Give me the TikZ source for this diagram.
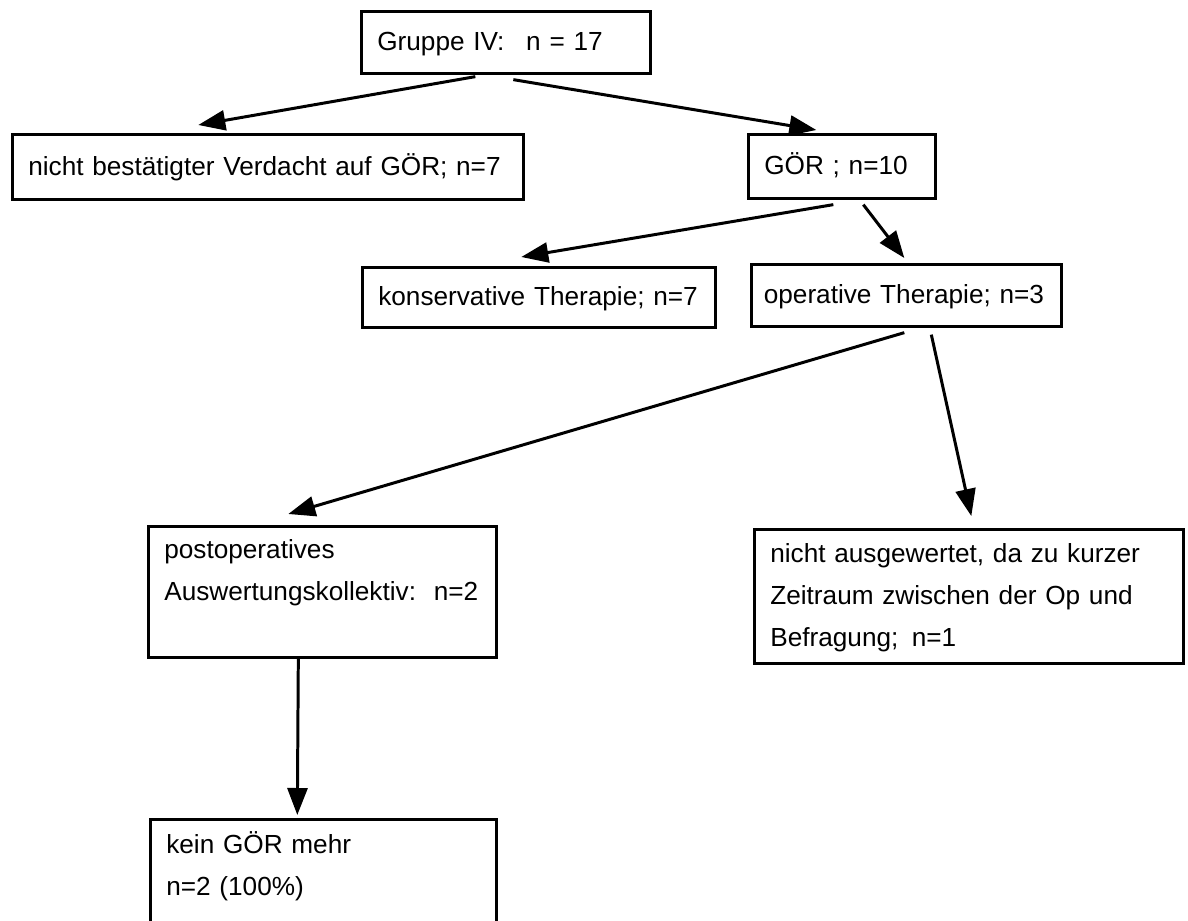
\documentclass[tikz,border=0pt]{standalone}
\usepackage{fontspec}
\setmainfont{Liberation Sans}
\usepackage{tikz}
\usetikzlibrary{arrows.meta}

\begin{document}
\begin{tikzpicture}[
		kasten/.style={draw, line width=1.5pt, anchor=north west, align=left, inner xsep=0.32cm, inner ysep=0cm,
			font=\fontsize{14.9}{23.8}\selectfont, execute at begin node=\strut, execute at end node=\strut},
		pfeil/.style={-{Triangle[length=0.54cm,width=0.4cm]}, line width=1.7pt}]
		\useasboundingbox (0,0) rectangle (23.76,-18.42);
		\node[kasten, text width=5.14cm, minimum height=1.24cm] (gruppe) at (7.2,-0.2) {Gruppe IV:\hspace{0.5em} n = 17};
		\node[kasten, text width=9.58cm, minimum height=1.3cm] (verdacht) at (0.22,-2.66) {nicht bestätigter Verdacht auf GÖR; n=7};
		\node[kasten, text width=3.1cm, minimum height=1.28cm] (goer) at (14.94,-2.66) {GÖR ; n=10};
		\node[kasten, text width=6.42cm, minimum height=1.2cm] (konserv) at (7.22,-5.32) {konservative Therapie; n=7};
		\node[kasten, text width=5.7cm, inner xsep=0.25cm, minimum height=1.24cm] (operativ) at (15.0,-5.26) {operative Therapie; n=3};
		\node[kasten, text width=6.32cm, minimum height=2.62cm] (postop) at (2.94,-10.5) {postoperatives\\Auswertungskollektiv:\hspace{0.18em} n=2\\};
		\node[kasten, text width=7.94cm, minimum height=2.68cm] (nichtausg) at (15.06,-10.56) {nicht ausgewertet, da zu kurzer\\Zeitraum zwischen der Op und\\Befragung;\hspace{0.18em} n=1};
		\node[kasten, text width=6.28cm, minimum height=2.7cm] (keingoer) at (2.98,-16.36) {kein GÖR mehr\\n=2 (100\%)\\};

		\draw[pfeil] ([xshift=-0.61cm,yshift=-0.04cm]gruppe.south) -- ([xshift=-1.39cm,yshift=0.16cm]verdacht.north);
		\draw[pfeil] ([xshift=0.15cm,yshift=-0.1cm]gruppe.south) -- ([xshift=-0.51cm,yshift=0.06cm]goer.north);
		\draw[pfeil] ([xshift=-0.17cm,yshift=-0.1cm]goer.south) -- ([xshift=-0.35cm,yshift=0.18cm]konserv.north);
		\draw[pfeil] ([xshift=0.43cm,yshift=-0.1cm]goer.south) -- ([xshift=-0.04cm,yshift=0.1cm]operativ.north);
		\draw[pfeil] ([xshift=-0.04cm,yshift=-0.1cm]operativ.south) -- ([xshift=-0.68cm,yshift=0.22cm]postop.north);
		\draw[pfeil] ([xshift=0.5cm,yshift=-0.14cm]operativ.south) -- ([xshift=0.05cm,yshift=0.24cm]nichtausg.north);
		\draw[pfeil] ([xshift=-0.48cm]postop.south) -- ([xshift=-0.52cm,yshift=0.06cm]keingoer.north);
\end{tikzpicture}
\end{document}
